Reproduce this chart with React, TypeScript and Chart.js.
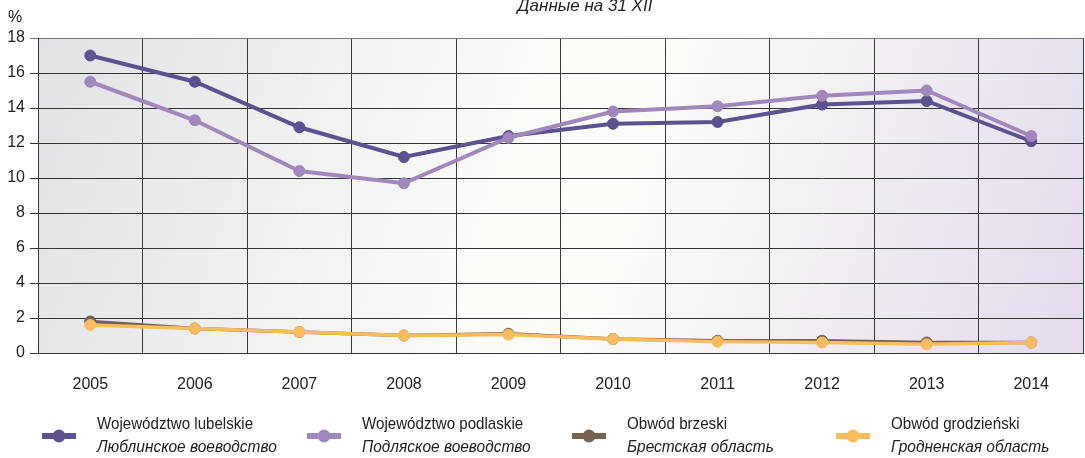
import React, { useEffect, useRef } from "react";
import { Chart, registerables } from "chart.js";

Chart.register(...registerables);

const years = ["2005", "2006", "2007", "2008", "2009", "2010", "2011", "2012", "2013", "2014"];
const lubelskie = [17.0, 15.5, 12.9, 11.2, 12.4, 13.1, 13.2, 14.2, 14.4, 12.1];
const podlaskie = [15.5, 13.3, 10.4, 9.7, 12.3, 13.8, 14.1, 14.7, 15.0, 12.4];
const brzeski = [1.8, 1.4, 1.2, 1.0, 1.1, 0.8, 0.7, 0.7, 0.6, 0.6];
const grodzienski = [1.6, 1.4, 1.2, 1.0, 1.05, 0.8, 0.65, 0.6, 0.5, 0.6];

const seriesNamesPl = ["Województwo lubelskie", "Województwo podlaskie", "Obwód brzeski", "Obwód grodzieński"];
const seriesNamesRu = ["Люблинское воеводство", "Подляское воеводство", "Брестская область", "Гродненская область"];
const seriesColors = ["#5e5190", "#a187bc", "#756250", "#f9bc5e"];

const titleText = "Данные на 31 XII";
const unitText = "%";

const FONT = "'Liberation Sans Narrow', 'Liberation Sans', Arial, sans-serif";

const bgPlugin = {
  id: "bgGradient",
  beforeDraw(chart: any) {
    const { ctx, chartArea } = chart;
    const { left, top, right, bottom } = chartArea;
    const g = ctx.createLinearGradient(left, top, right, bottom);
    g.addColorStop(0, "#e1e2e5");
    g.addColorStop(0.45, "#fbfbf8");
    g.addColorStop(0.55, "#fcfcf8");
    g.addColorStop(1, "#e4dbec");
    ctx.save();
    ctx.fillStyle = g;
    ctx.fillRect(left, top, right - left, bottom - top);
    ctx.restore();
  },
};

const drawNarrow = (ctx: any, text: string, x: number, y: number, sx: number) => {
  ctx.save();
  ctx.translate(x, y);
  ctx.scale(sx, 1);
  ctx.fillText(text, 0, 0);
  ctx.restore();
};

const overlayPlugin = {
  id: "overlay",
  afterDraw(chart: any) {
    const { ctx } = chart;
    ctx.save();
    ctx.fillStyle = "#222";
    ctx.textBaseline = "alphabetic";
    ctx.textAlign = "center";
    ctx.font = `italic 17px ${FONT}`;
    ctx.fillText(titleText, 585, 11);
    ctx.font = `16px ${FONT}`;
    ctx.fillText(unitText, 15, 22);

    const xs = [42, 307, 572, 836];
    for (let i = 0; i < 4; i++) {
      const x0 = xs[i];
      const y = 436;
      ctx.strokeStyle = seriesColors[i];
      ctx.lineWidth = 6;
      ctx.beginPath();
      ctx.moveTo(x0, y);
      ctx.lineTo(x0 + 34, y);
      ctx.stroke();
      ctx.fillStyle = seriesColors[i];
      ctx.beginPath();
      ctx.arc(x0 + 17, y, 6.5, 0, Math.PI * 2);
      ctx.fill();
      ctx.fillStyle = "#222";
      ctx.textAlign = "left";
      ctx.textBaseline = "middle";
      ctx.font = `17px ${FONT}`;
      drawNarrow(ctx, seriesNamesPl[i], x0 + 55, 424, 0.89);
      ctx.font = `italic 17px ${FONT}`;
      drawNarrow(ctx, seriesNamesRu[i], x0 + 55, 447, 0.91);
    }
    ctx.restore();
  },
};

export default function App() {
  const ref = useRef<HTMLCanvasElement | null>(null);

  useEffect(() => {
    if (!ref.current) return;
    const mk = (label: string, data: number[], color: string, width: number, order: number) => ({
      label,
      data,
      borderColor: color,
      backgroundColor: color,
      borderWidth: width,
      pointRadius: 5.5,
      pointHoverRadius: 5.5,
      pointBorderWidth: 1,
      pointBackgroundColor: color,
      pointBorderColor: color,
      tension: 0,
      order,
    });
    const chart = new Chart(ref.current, {
      type: "line",
      data: {
        labels: years,
        datasets: [
          mk(seriesNamesPl[0], lubelskie, seriesColors[0], 4, 4),
          mk(seriesNamesPl[1], podlaskie, seriesColors[1], 4, 3),
          mk(seriesNamesPl[2], brzeski, seriesColors[2], 3.5, 2),
          mk(seriesNamesPl[3], grodzienski, seriesColors[3], 3.5, 1),
        ],
      },
      options: {
        responsive: false,
        animation: false,
        layout: { padding: { top: 38, right: 0, bottom: 55, left: 0 } },
        plugins: { legend: { display: false }, title: { display: false }, tooltip: { enabled: false } },
        scales: {
          x: {
            type: "category",
            offset: true,
            grid: { offset: true, color: "#3a3a3a", lineWidth: 1, drawTicks: false },
            border: { color: "#333", width: 1 },
            ticks: { color: "#222", font: { family: FONT, size: 16 }, padding: 22, maxRotation: 0 },
            afterFit: (s: any) => {
              s.height = 50;
            },
          },
          y: {
            min: 0,
            max: 18,
            ticks: { stepSize: 2, color: "#222", font: { family: FONT, size: 16 }, padding: 5 },
            grid: {
              color: (c: any) => (c.tick && c.tick.value === 18 ? "#777" : "#333"),
              lineWidth: 1,
              drawTicks: true,
              tickLength: 8,
            },
            border: { color: "#333", width: 1 },
            afterFit: (s: any) => {
              s.width = 38;
            },
          },
        },
      },
      plugins: [bgPlugin, overlayPlugin],
    } as any);
    return () => chart.destroy();
  }, []);

  return (
    <div style={{ position: "fixed", left: 0, top: 0, width: 1085, height: 458, overflow: "hidden", background: "#fff" }}>
      <canvas ref={ref} width={1090} height={458} style={{ display: "block", width: 1090, height: 458 }} />
    </div>
  );
}
